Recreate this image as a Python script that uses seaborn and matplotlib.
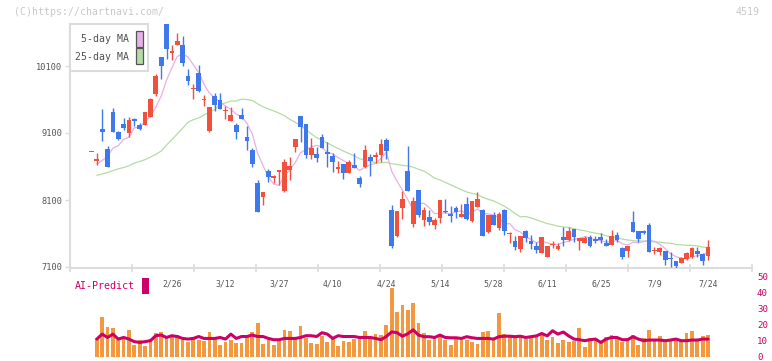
import numpy as np
import pandas as pd
import matplotlib
matplotlib.use("Agg")
import matplotlib.pyplot as plt
from matplotlib.patches import Rectangle
import seaborn as sns

# ---------------- data ----------------
opens = [8827, 8687, 9159, 8861, 9413, 9114, 9234, 9100, 9313, 9224,
         9224, 9338, 9682, 10234, 10731, 10299, 10413, 10408, 9950, 9751,
         9995, 9587, 9124, 9652, 9592, 9433, 9284, 9219, 9374, 9040,
         8846, 8354, 8150, 8533, 8433, 8523, 8239, 8548, 8896, 9354,
         9234, 8772, 8787, 9045, 8821, 8757, 8558, 8642, 8508, 8622,
         8433, 8598, 8742, 8747, 8767, 8995, 7951, 7563, 7986, 8533,
         7747, 8249, 7801, 7841, 7732, 7836, 7941, 7891, 7981, 7851,
         8040, 7791, 7995, 7951, 7627, 7876, 7687, 7951, 7587, 7488,
         7369, 7637, 7488, 7413, 7314, 7254, 7433, 7369, 7543, 7503,
         7667, 7493, 7463, 7543, 7513, 7548, 7463, 7428, 7578, 7379,
         7339, 7772, 7637, 7637, 7727, 7339, 7329, 7339, 7229, 7189,
         7164, 7214, 7254, 7339, 7294, 7269]
highs = [8827, 8801, 9463, 8911, 9473, 9124, 9323, 9338, 9323, 9249,
         9413, 9622, 9985, 10234, 10731, 10418, 10592, 10547, 10055, 9831,
         10114, 9672, 9488, 9702, 9692, 9503, 9493, 9254, 9468, 9204,
         8871, 8399, 8215, 8558, 8473, 8548, 8712, 8737, 9010, 9354,
         9234, 9020, 8896, 9080, 8971, 8806, 8682, 8642, 8697, 8796,
         8458, 8921, 8786, 8821, 9010, 9020, 8025, 7936, 8234, 8906,
         8150, 8249, 7991, 7951, 7826, 8100, 8115, 8010, 8010, 8040,
         8150, 8085, 8214, 7961, 7876, 7926, 7926, 7961, 7627, 7563,
         7568, 7652, 7577, 7478, 7543, 7418, 7493, 7453, 7702, 7692,
         7667, 7528, 7563, 7578, 7563, 7602, 7513, 7652, 7617, 7403,
         7418, 7936, 7637, 7652, 7752, 7403, 7403, 7339, 7329, 7189,
         7254, 7329, 7403, 7403, 7304, 7503]
lows = [8827, 8627, 8975, 8592, 9119, 9000, 9149, 9035, 9199, 9149,
        9224, 9338, 9657, 9910, 10204, 10194, 10413, 10105, 9821, 9607,
        9711, 9498, 9115, 9433, 9458, 9304, 9284, 9010, 9314, 8846,
        8598, 7926, 8025, 8374, 8349, 8324, 8224, 8399, 8821, 8971,
        8732, 8712, 8672, 8881, 8598, 8523, 8508, 8418, 8508, 8583,
        8299, 8573, 8458, 8657, 8672, 8707, 7379, 7553, 7821, 8234,
        7702, 7851, 7712, 7732, 7672, 7762, 7911, 7777, 7826, 7851,
        7801, 7776, 7995, 7568, 7612, 7727, 7652, 7577, 7463, 7354,
        7329, 7478, 7369, 7304, 7314, 7254, 7379, 7354, 7413, 7493,
        7468, 7354, 7453, 7403, 7453, 7453, 7418, 7428, 7478, 7219,
        7244, 7617, 7478, 7587, 7329, 7289, 7279, 7130, 7105, 7080,
        7155, 7204, 7229, 7254, 7130, 7204]
closes = [8827, 8712, 9119, 8592, 9119, 9015, 9174, 9294, 9284, 9164,
          9413, 9612, 9955, 10105, 10353, 10323, 10473, 10144, 9881, 9776,
          9731, 9607, 9488, 9518, 9458, 9443, 9369, 9120, 9314, 8981,
          8642, 7926, 8215, 8448, 8453, 8548, 8667, 8607, 9010, 9194,
          8772, 8871, 8732, 8881, 8782, 8672, 8598, 8508, 8667, 8583,
          8344, 8846, 8682, 8777, 8936, 8836, 7413, 7936, 8115, 8234,
          8085, 7876, 7951, 7772, 7801, 8100, 7926, 7866, 7921, 7891,
          7821, 8085, 8115, 7568, 7876, 7727, 7891, 7642, 7612, 7403,
          7568, 7538, 7448, 7354, 7543, 7418, 7448, 7413, 7503, 7642,
          7553, 7528, 7528, 7418, 7493, 7503, 7418, 7563, 7503, 7244,
          7418, 7617, 7518, 7602, 7329, 7354, 7389, 7204, 7214, 7115,
          7239, 7314, 7379, 7289, 7194, 7403]

# volume bars and AI-Predict line, candles 1..115
volume = [11.8, 24.8, 18.6, 18.0, 10.8, 11.6, 16.8, 7.5, 10.6, 6.8,
          11.2, 14.9, 15.7, 12.8, 12.8, 13.7, 10.8, 9.5, 12.2, 10.8,
          10.2, 15.7, 11.6, 7.7, 9.1, 10.4, 8.7, 8.9, 12.8, 15.7,
          21.3, 8.3, 10.8, 7.7, 11.2, 16.8, 16.1, 12.4, 19.5, 11.6,
          8.9, 8.3, 13.2, 9.5, 12.8, 7.0, 10.2, 9.5, 11.2, 12.2,
          16.1, 11.2, 14.5, 13.7, 20.1, 43.3, 28.1, 32.3, 29.4, 33.7,
          21.1, 14.9, 10.8, 12.2, 13.2, 10.8, 7.5, 12.2, 12.0, 10.8,
          9.6, 8.1, 15.7, 16.1, 10.6, 27.3, 14.3, 12.7, 11.6, 12.7,
          11.0, 12.2, 13.7, 14.3, 10.6, 12.2, 8.7, 10.6, 9.1, 10.2,
          18.0, 6.4, 11.8, 10.6, 8.7, 12.2, 13.7, 11.2, 9.6, 11.6,
          13.7, 7.5, 11.8, 17.1, 11.2, 13.2, 10.2, 11.2, 10.6, 10.6,
          14.9, 16.1, 9.8, 13.2, 13.7]
ai_predict = [11.2, 14.3, 12.2, 14.3, 11.2, 12.2, 11.2, 9.6, 9.1, 9.6,
              10.2, 13.3, 13.7, 12.2, 13.3, 12.8, 11.6, 11.2, 11.6, 12.8,
              11.6, 11.6, 11.6, 12.2, 11.2, 14.3, 11.6, 12.8, 12.8, 13.7,
              12.8, 12.8, 11.6, 10.8, 10.8, 11.6, 11.6, 11.6, 12.2, 13.3,
              13.3, 12.8, 15.2, 14.3, 11.6, 13.3, 12.8, 12.8, 12.8, 12.2,
              12.2, 12.2, 11.6, 10.8, 12.8, 15.7, 15.2, 13.0, 14.5, 17.0,
              13.7, 12.7, 12.7, 12.2, 13.7, 12.2, 12.0, 12.0, 11.6, 12.7,
              12.0, 11.6, 11.6, 11.6, 11.2, 12.7, 13.0, 13.0, 12.7, 13.0,
              12.2, 12.7, 13.2, 14.7, 13.2, 16.4, 14.3, 15.6, 13.2, 11.2,
              10.8, 10.2, 10.8, 11.2, 9.1, 11.2, 12.2, 12.2, 10.8, 10.8,
              12.7, 11.2, 10.2, 10.6, 10.6, 10.6, 10.2, 10.6, 11.2, 10.2,
              10.2, 10.6, 10.6, 11.2, 11.2]

# moving-average values read where the window reaches before the first candle
ma5_lead = [8637, 8690, 8750]            # candles 1..3
ma25_lead = [8469, 8490, 8510, 8540, 8565, 8585, 8610, 8650, 8675, 8702,
             8740, 8780, 8830, 8920, 9000, 9085, 9170, 9260, 9300, 9325,
             9370, 9410, 9450]            # candles 1..23

date_index = [15, 25, 35, 45, 55, 65, 75, 85, 95, 105, 115]
date_labels = ["2/26", "3/12", "3/27", "4/10", "4/24", "5/14", "5/28",
               "6/11", "6/25", "7/9", "7/24"]
price_ticks = [7100, 8100, 9100, 10100]
vol_ticks = [0, 10, 20, 30, 40, 50]

# ---------------- style ----------------
RED = "#f0503c"
BLUE = "#3f78ea"
ORANGE = "#f3983f"
CRIMSON = "#cc0066"
PINK = "#e6b0e8"
GREEN = "#b4dca4"
AXIS = "#dcdcdc"

W, H = 772, 361
sns.set_theme(style="white")
plt.rcParams['font.family'] = ['DejaVu Sans Mono', 'DejaVu Sans']

fig = plt.figure(figsize=(W / 100, H / 100), dpi=100)
fig.patch.set_facecolor("white")


def fx(px):
    return px / W


def fy(py):
    return 1 - py / H


n = len(closes)
idx = np.arange(n)
df = pd.DataFrame({"idx": idx, "open": opens, "high": highs,
                   "low": lows, "close": closes})

ma5 = df["close"].rolling(5, min_periods=1).mean().to_numpy()
ma5[1:1 + len(ma5_lead)] = ma5_lead
ma25 = df["close"].rolling(25).mean().to_numpy()
ma25[1:1 + len(ma25_lead)] = ma25_lead
df["ma5"] = ma5
df["ma25"] = ma25

XL = (-4.0, 123.2)
px_per_1000 = 67.0
ylo = 7100 - 1000 / px_per_1000 * 1
yhi = 7100 + 1000 / px_per_1000 * (267 - 24)

# ---------------- price panel ----------------
ax = fig.add_axes([fx(70), fy(268), fx(752) - fx(70), fy(24) - fy(268)])
ax.set_xlim(*XL)
ax.set_ylim(ylo, yhi)

dm = df.iloc[1:]
sns.lineplot(data=dm, x="idx", y="ma25", ax=ax, color=GREEN, lw=0.9,
             legend=False, zorder=2)
sns.lineplot(data=dm, x="idx", y="ma5", ax=ax, color=PINK, lw=0.9,
             legend=False, zorder=2)

up = df["close"] >= df["open"]
cols = np.where(up, RED, BLUE)
ax.vlines(df["idx"], df["low"], df["high"], colors=cols, lw=1.0, zorder=3)
bot = np.minimum(df["open"], df["close"]).to_numpy(float)
hgt = np.abs(df["close"] - df["open"]).to_numpy(float)
minh = 16.0
small = hgt < minh
bot[small] = bot[small] + hgt[small] / 2 - minh / 2
hgt[small] = minh
ax.bar(df["idx"], hgt, bottom=bot, width=0.88, color=cols, lw=0, zorder=4)

ax.set_xlabel("")
ax.set_ylabel("")
for s in ["top", "right"]:
    ax.spines[s].set_visible(False)
for s in ["left", "bottom"]:
    ax.spines[s].set_color(AXIS)
    ax.spines[s].set_linewidth(1.5)
ax.set_xticks(np.linspace(XL[0], XL[1], 12))
ax.set_xticklabels([])
ax.tick_params(axis="x", direction="inout", length=6, width=1.2,
               color=AXIS, bottom=True)
ax.set_yticks(price_ticks)
ax.set_yticklabels([str(v) for v in price_ticks])
ax.tick_params(axis="y", direction="out", length=3.6, width=1.0,
               color=AXIS, left=True, pad=2, labelsize=6.2,
               labelcolor="#555555")
ax.grid(False)

# ---------------- volume / AI-Predict panel ----------------
VB, VT, VS = 357.0, 270.0, 1.6
axv = fig.add_axes([fx(70), fy(VB), fx(752) - fx(70), fy(VT) - fy(VB)])
axv.set_xlim(*XL)
axv.set_ylim(0, (VB - VT) / VS)
axv.patch.set_alpha(0)
vi = idx[1:]
axv.bar(vi, volume, width=0.7, color=ORANGE, lw=0, zorder=2)
dv = pd.DataFrame({"idx": vi, "ai": ai_predict})
sns.lineplot(data=dv, x="idx", y="ai", ax=axv, color=CRIMSON, lw=2.2,
             legend=False, zorder=3)
for i, lab in zip(date_index, date_labels):
    axv.text(i, (VB - 284) / VS, lab, ha="center", va="center",
             fontsize=5.9, color="#555555", zorder=1)
for s in axv.spines.values():
    s.set_visible(False)
axv.set_xticks([])
axv.set_xlabel("")
axv.set_ylabel("")
axv.yaxis.tick_right()
axv.set_yticks(vol_ticks)
axv.set_yticklabels([str(v) for v in vol_ticks])
axv.tick_params(axis="y", length=0, pad=3.6, labelsize=6.6,
                labelcolor=CRIMSON, right=True, left=False)
axv.grid(False)

# ---------------- decorations ----------------
fig.text(fx(14), fy(12), "(C)https://chartnavi.com/", fontsize=7.1,
         color="#c8c8c8", ha="left", va="center")
fig.text(fx(760), fy(12), "4519", fontsize=7.1, color="#c8c8c8",
         ha="right", va="center")

fig.add_artist(Rectangle((fx(70), fy(71)), fx(148) - fx(70), fy(24) - fy(71),
                         transform=fig.transFigure, facecolor="white",
                         edgecolor=AXIS, lw=1.5, zorder=10))
fig.text(fx(129), fy(39.5), "5-day MA", fontsize=7.1, color="#505050",
         ha="right", va="center", zorder=11)
fig.text(fx(129), fy(56.5), "25-day MA", fontsize=7.1, color="#505050",
         ha="right", va="center", zorder=11)
fig.add_artist(Rectangle((fx(136), fy(46.5)), fx(142.5) - fx(136),
                         fy(31) - fy(46.5), transform=fig.transFigure,
                         facecolor=PINK, edgecolor="#555555", lw=0.9, zorder=11))
fig.add_artist(Rectangle((fx(136), fy(64)), fx(142.5) - fx(136),
                         fy(48.5) - fy(64), transform=fig.transFigure,
                         facecolor=GREEN, edgecolor="#555555", lw=0.9, zorder=11))

fig.text(fx(75), fy(286), "AI-Predict", fontsize=7.2, color=CRIMSON,
         ha="left", va="center")
fig.add_artist(Rectangle((fx(142), fy(294)), fx(149) - fx(142), fy(278) - fy(294),
                         transform=fig.transFigure, facecolor=CRIMSON,
                         edgecolor="none", zorder=5))

fig.savefig("out.png", dpi=100, facecolor="white")
